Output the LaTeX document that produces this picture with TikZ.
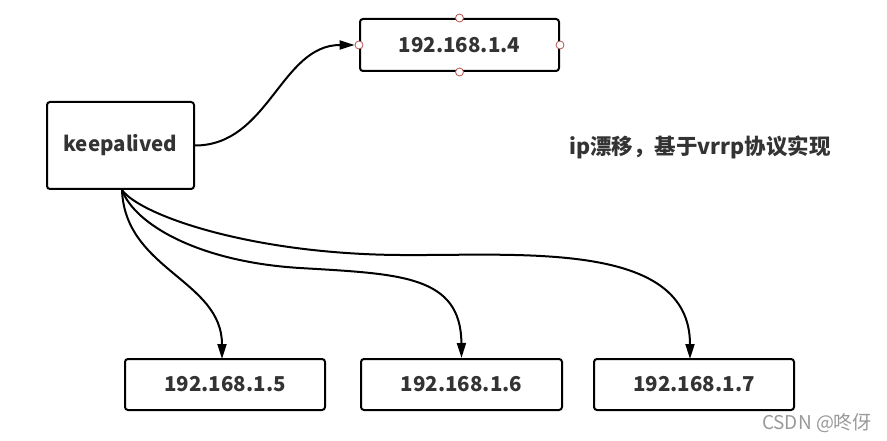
\documentclass[tikz,border=0pt]{standalone}
\usepackage{fontspec}
\setmainfont{Noto Sans CJK SC}
\usetikzlibrary{arrows.meta}
\definecolor{txtgray}{HTML}{333333}
\definecolor{markgray}{HTML}{999999}
\definecolor{pinred}{HTML}{B85450}

\begin{document}
\begin{tikzpicture}[x=1pt, y=-1pt, line width=2pt, >={Triangle[length=15pt,width=9pt]},
	box/.style={rectangle, draw, rounded corners=3pt, text=txtgray, font=\fontsize{20.5}{24}\selectfont\bfseries},
	pin/.style={circle, draw=pinred, fill=white, line width=0.8pt, inner sep=0pt, minimum size=8pt}]
		\useasboundingbox (0, 0) rectangle (887, 441);

		\node[box, minimum width=199pt, minimum height=52pt] (vip) at (459.5, 45) {192.168.1.4};
		\node[box, minimum width=147pt, minimum height=87pt] (keep) at (120.5, 145.5) {keepalived};

		\node[box, minimum width=200pt, minimum height=51pt] (rs5) at (225, 384.5) {192.168.1.5};
		\node[box, minimum width=201pt, minimum height=51pt] (rs6) at (461.5, 384.5) {192.168.1.6};
		\node[box, minimum width=200pt, minimum height=51pt] (rs7) at (694, 384.5) {192.168.1.7};

		\node[text=txtgray, font=\fontsize{21.5}{24}\selectfont\bfseries] (note) at (700, 147) {ip漂移，基于vrrp协议实现};
		\node[text=markgray, font=\fontsize{19}{22}\selectfont] (mark) at (817, 423) {CSDN @咚伢};

		\node[pin] (pinN) at (vip.north) {};
		\node[pin] (pinS) at (vip.south) {};
		\node[pin] (pinW) at (vip.west) {};
		\node[pin] (pinE) at (vip.east) {};

		\draw [->] (keep.east) to[out=0, in=180] (pinW.west);

		\coordinate (fork) at (122, 190);
		\coordinate (in5) at (222, 359);
		\coordinate (in7) at (690, 359);
		\draw [->] (fork) .. controls (125, 270) and (222, 280) .. (in5);
		\draw [->] (fork) .. controls (135, 225) and (200, 262) .. (300, 268)
			.. controls (400, 274) and (461, 275) .. (rs6.north);
		\draw [->] (fork) .. controls (140, 215) and (250, 254) .. (400, 255)
			.. controls (520, 256) and (690, 240) .. (in7);
\end{tikzpicture}
\end{document}
